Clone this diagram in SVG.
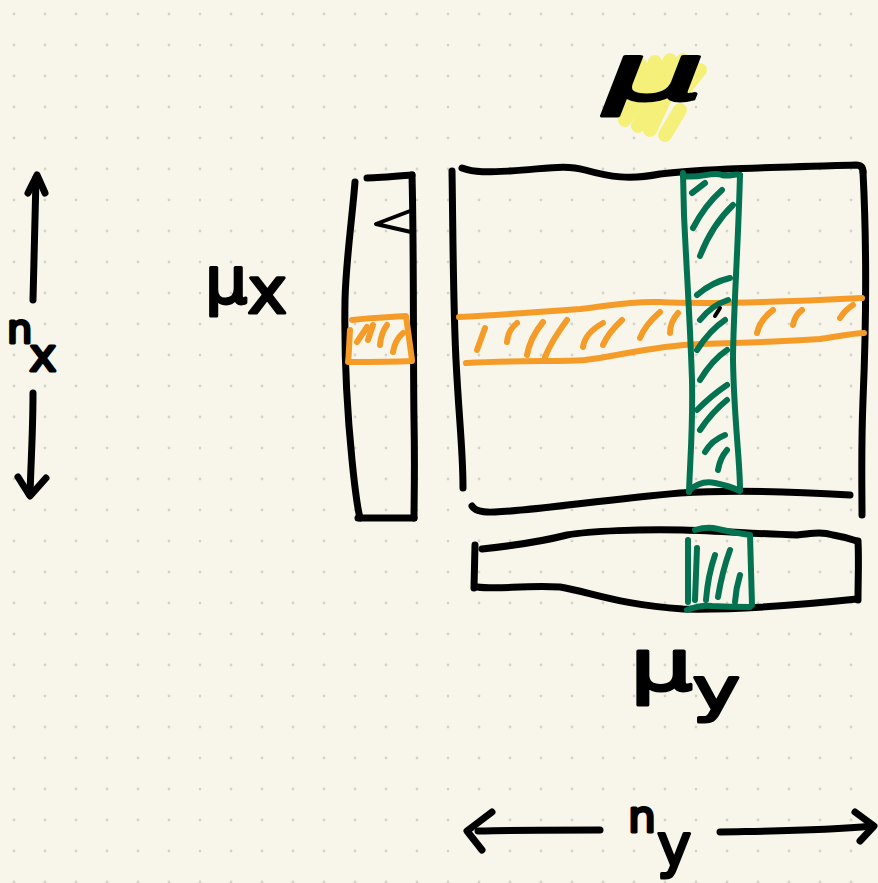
<svg xmlns="http://www.w3.org/2000/svg" width="878" height="883" viewBox="0 0 878 883">
<defs>
<pattern id="dots" patternUnits="userSpaceOnUse" x="0" y="0" width="31" height="31">
<circle cx="14" cy="14" r="1.4" fill="#d3d3ca"/>
</pattern>
<style>
.k{fill:none;stroke:#000;stroke-width:7;stroke-linecap:round;stroke-linejoin:round}
.kt{fill:none;stroke:#000;stroke-width:4;stroke-linecap:round;stroke-linejoin:round}
.o{fill:none;stroke:#f59b28;stroke-width:6;stroke-linecap:round;stroke-linejoin:round}
.g{fill:none;stroke:#037251;stroke-width:6;stroke-linecap:round;stroke-linejoin:round}
.y{fill:none;stroke:#f4ef6e;stroke-width:14;stroke-linecap:round;stroke-linejoin:round;opacity:0.9}
.lbl{font-family:"DejaVu Sans",sans-serif;font-weight:normal;fill:#000;stroke:#000;stroke-width:3;stroke-linejoin:round}
</style>
</defs>
<rect width="878" height="883" fill="#f8f6ea"/>
<rect width="878" height="883" fill="url(#dots)"/>

<g id="matrix">
<path class="k" d="M452,171 C453,230 453,300 456,360 S463,450 463,488"/>
<path class="k" d="M462,168 C475,173 490,172 510,171 C545,169 565,164 585,170 C610,177 630,180 660,174 C700,169 780,167 856,165 Q863,165 863,172"/>
<path class="k" d="M863,172 C867,250 866,330 863,400 C861,450 862,490 862,515"/>
<path class="k" d="M472,506 Q476,513 495,512 C540,510 600,500 680,493 C740,489 800,492 850,495"/>
</g>

<g id="row-band">
<path class="o" d="M459,317 C500,315 540,312 580,309 C610,306 625,301 660,302 C700,304 760,303 862,298"/>
<path class="o" d="M466,363 C520,360 560,362 585,360 C620,356 650,346 700,344 C740,343 780,342 820,339 C840,336 855,333 864,333"/>
<path class="o" d="M477,350 L485,328 M507,342 Q508,330 517,323 M527,355 Q530,338 543,322 M545,357 Q552,340 567,320 M583,347 Q585,333 603,323 M603,345 Q608,333 622,320 M640,338 Q645,325 660,312 M670,333 Q670,322 678,313 M757,333 Q760,320 773,310 M793,325 Q795,315 802,310 M840,318 Q845,310 853,305"/>
</g>

<g id="col-band">
<path class="g" d="M683,173 L684,215 C686,260 690,320 692,380 C693,430 690,460 689,492"/>
<path class="g" d="M740,175 C738,250 733,320 733,360 C734,420 740,460 740,490"/>
<path class="g" d="M683,176 C700,179 712,171 722,175 C730,177 735,173 740,175"/>
<path class="g" d="M689,491 Q700,480 715,483 Q730,486 740,491"/>
<path class="g" d="M692,193 L705,183 M693,228 Q705,205 722,190 M700,256 Q712,225 733,205 M697,295 Q712,282 730,278 M700,320 Q712,305 728,300 M697,350 Q710,330 725,320 M700,380 Q712,360 727,350 M697,410 Q712,395 727,385 M700,430 Q712,412 727,400 M705,452 Q712,440 725,435 M718,470 Q720,458 727,450"/>
<path class="kt" d="M715,316 L720,308"/>
</g>

<g id="vec-x">
<path class="k" d="M355,182 C352,220 346,260 345,300 C344,360 348,420 352,460 C355,490 358,510 360,518"/>
<path class="k" d="M367,178 C380,178 400,176 412,175"/>
<path class="k" d="M412,175 C414,250 413,350 414,420 C415,470 414,500 414,518"/>
<path class="k" d="M358,518 L414,518"/>
<path class="kt" d="M410,211 L376,224 L411,232"/>
<path class="o" d="M352,320 C370,318 390,317 406,316 L412,360 M350,330 C349,345 349,355 348,362 C370,362 390,362 412,361"/>
<path class="o" d="M357,342 L367,327 M368,340 L373,325 M380,345 Q381,333 387,325 M393,352 Q395,340 403,333"/>
</g>

<g id="vec-y">
<path class="k" d="M475,545 L474,588"/>
<path class="k" d="M482,549 C510,546 540,542 567,535 C590,531 640,529 683,530 C720,531 760,534 797,535 C810,534 820,531 833,535 Q845,537 857,541"/>
<path class="k" d="M858,541 C859,560 858,580 858,600"/>
<path class="k" d="M477,587 C500,590 520,585 560,587 C590,592 620,605 683,609 C730,610 790,606 857,599"/>
<path class="g" d="M688,540 L688,602 M750,535 L752,605 M695,530 Q705,527 713,528 Q730,532 750,535 M687,610 Q700,605 712,606 Q730,607 750,607"/>
<path class="g" d="M695,600 L697,548 M706,600 Q708,575 715,555 M718,597 Q722,572 730,550 M735,602 Q736,588 740,575"/>
</g>

<g id="label-mu">
<path class="y" d="M612,110 L640,65 M625,120 L655,62 M638,126 L670,60 M650,130 L683,60 M665,135 L680,110 M680,95 L700,70"/>
<text class="lbl" x="605" y="100" font-size="78" font-style="italic" textLength="100" lengthAdjust="spacingAndGlyphs">μ</text>
</g>

<g id="label-mux">
<text class="lbl" x="205" y="303" font-size="64" textLength="82" lengthAdjust="spacingAndGlyphs">μ<tspan dy="10">x</tspan></text>
</g>

<g id="label-muy">
<text class="lbl" x="630" y="690" font-size="72" textLength="110" lengthAdjust="spacingAndGlyphs">μ<tspan font-size="58" dy="20">y</tspan></text>
</g>

<g id="label-nx">
<text class="lbl" x="7" y="343" font-size="40">n<tspan font-size="46" dx="-3" dy="28">x</tspan></text>
</g>

<g id="label-ny">
<text class="lbl" x="628" y="832" font-size="44">n<tspan font-size="58" dx="1" dy="34">y</tspan></text>
</g>

<g id="connectors">
<path class="k" d="M33,300 C34,250 35,210 36,178"/>
<path class="k" d="M28,193 L37,175 L45,193"/>
<path class="k" d="M33,393 C33,430 31,460 30,495"/>
<path class="k" d="M18,477 L30,496 L46,478"/>
<path class="k" d="M478,831 C520,830 560,830 600,830"/>
<path class="k" d="M492,812 L467,831 L482,850"/>
<path class="k" d="M720,832 C770,831 820,831 872,826"/>
<path class="k" d="M855,812 L874,826 L860,841"/>
</g>
</svg>
